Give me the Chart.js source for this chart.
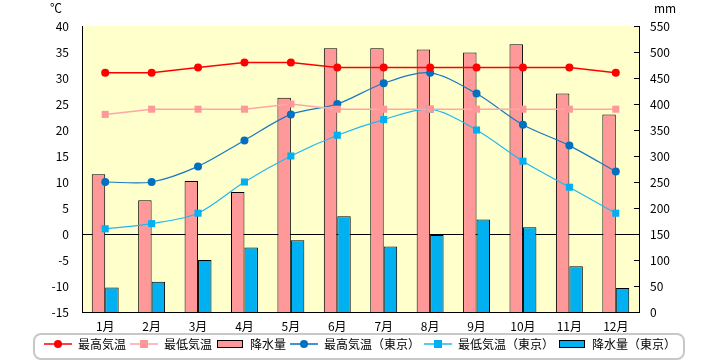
<!DOCTYPE html>
<html>
<head>
<meta charset="utf-8">
<script src="https://cdn.jsdelivr.net/npm/chart.js@4.4.1/dist/chart.umd.min.js"></script>
<style>
  html, body { margin: 0; padding: 0; background: #fff; }
  #wrap { width: 720px; height: 360px; }
</style>
</head>
<body>
<div id="wrap"><canvas id="chart" width="720" height="360"></canvas></div>
<script>
var months = ['1月','2月','3月','4月','5月','6月','7月','8月','9月','10月','11月','12月'];
var maxTemp = [31, 31, 32, 33, 33, 32, 32, 32, 32, 32, 32, 31];
var minTemp = [23, 24, 24, 24, 25, 24, 24, 24, 24, 24, 24, 24];
var rain = [265, 215, 252, 231, 412, 507, 507, 505, 499, 515, 420, 380];
var maxTokyo = [10, 10, 13, 18, 23, 25, 29, 31, 27, 21, 17, 12];
var minTokyo = [1, 2, 4, 10, 15, 19, 22, 24, 20, 14, 9, 4];
var rainTokyo = [47, 58, 100, 124, 138, 184, 126, 148, 178, 163, 88, 46];

var FONT = '"Noto Sans CJK JP", "Noto Sans", sans-serif';

function lineIcon(color, marker, mColor) {
    var c = document.createElement('canvas');
    c.width = 28; c.height = 12;
    var g = c.getContext('2d');
    g.strokeStyle = color; g.lineWidth = 1.5;
    g.beginPath(); g.moveTo(0, 6); g.lineTo(28, 6); g.stroke();
    g.fillStyle = mColor;
    if (marker == 'circle') {
        g.beginPath(); g.arc(14, 6, 4, 0, Math.PI * 2); g.fill();
    } else {
        g.fillRect(10, 2, 8, 8);
    }
    return c;
}
function barIcon(color) {
    var c = document.createElement('canvas');
    c.width = 28; c.height = 12;
    var g = c.getContext('2d');
    g.fillStyle = color; g.fillRect(1.5, 2.5, 25, 7);
    g.strokeStyle = '#000'; g.lineWidth = 1; g.strokeRect(1.5, 2.5, 25, 7);
    return c;
}

var icons = [
    lineIcon('#ff0000', 'circle', '#ff0000'),
    lineIcon('#ffa6a6', 'rect', '#ff9999'),
    barIcon('#ff9999'),
    lineIcon('#0070c0', 'circle', '#0070c0'),
    lineIcon('#22b8ee', 'rect', '#00b0f0'),
    barIcon('#00b0f0')
];

var extras = {
    id: 'extras',
    beforeDraw: function(chart) {
        var a = chart.chartArea, ctx = chart.ctx;
        ctx.save();
        ctx.fillStyle = '#ffffcc';
        ctx.fillRect(a.left, a.top, a.right - a.left, a.bottom - a.top);
        ctx.restore();
    },
    afterDraw: function(chart) {
        var ctx = chart.ctx, a = chart.chartArea;
        ctx.save();
        ctx.fillStyle = '#000';
        ctx.font = '12px ' + FONT;
        ctx.textBaseline = 'middle';
        ctx.textAlign = 'center';
        ctx.fillText('℃', 56, 8);
        ctx.fillText('mm', 665, 8);
        // small inward ticks on the right axis
        var y2 = chart.scales.y2;
        ctx.strokeStyle = '#000'; ctx.lineWidth = 1;
        y2.ticks.forEach(function(t) {
            var y = Math.round(y2.getPixelForValue(t.value)) + 0.5;
            ctx.beginPath(); ctx.moveTo(a.right - 5, y); ctx.lineTo(a.right, y); ctx.stroke();
        });
        // legend frame
        var boxes = chart.legend.legendHitBoxes;
        if (boxes && boxes.length) {
            var l = boxes[0].left - 10;
            var r = boxes[boxes.length - 1].left + boxes[boxes.length - 1].width + 8;
            var t = chart.legend.top, h = 25, rad = 7;
            ctx.strokeStyle = '#c8c8c8'; ctx.lineWidth = 2;
            ctx.beginPath();
            ctx.roundRect(l, t, r - l, h, rad);
            ctx.stroke();
        }
        ctx.restore();
    }
};

var ctx = document.getElementById('chart').getContext('2d');
var myChart = new Chart(ctx, {
    type: 'bar',
    data: {
        labels: months,
        datasets: [{
            type: 'line', label: '最高気温', data: maxTemp, yAxisID: 'y',
            borderColor: '#ff0000', backgroundColor: '#ff0000', borderWidth: 1.5,
            pointStyle: 'circle', pointRadius: 4, pointBorderWidth: 0, tension: 0, order: 1
        }, {
            type: 'line', label: '最低気温', data: minTemp, yAxisID: 'y',
            borderColor: '#ffa6a6', backgroundColor: '#ff9999', borderWidth: 1.5,
            pointStyle: 'rect', pointRadius: 5, pointBorderWidth: 0, tension: 0, order: 1
        }, {
            label: '降水量', data: rain, yAxisID: 'y2',
            backgroundColor: '#ff9999', borderColor: '#000', borderWidth: 1,
            borderSkipped: 'bottom', order: 2
        }, {
            type: 'line', label: '最高気温（東京）', data: maxTokyo, yAxisID: 'y',
            borderColor: '#1a78c2', backgroundColor: '#0070c0', borderWidth: 1.2,
            pointStyle: 'circle', pointRadius: 4, pointBorderWidth: 0, tension: 0.3, order: 1
        }, {
            type: 'line', label: '最低気温（東京）', data: minTokyo, yAxisID: 'y',
            borderColor: '#22b8ee', backgroundColor: '#00b0f0', borderWidth: 1.2,
            pointStyle: 'rect', pointRadius: 5, pointBorderWidth: 0, tension: 0.3, order: 1
        }, {
            label: '降水量（東京）', data: rainTokyo, yAxisID: 'y2',
            backgroundColor: '#00b0f0', borderColor: '#000', borderWidth: 1,
            borderSkipped: 'bottom', order: 2
        }]
    },
    options: {
        responsive: false,
        animation: false,
        layout: { padding: { top: 26, left: 0, right: 0, bottom: 0 } },
        datasets: { bar: { barPercentage: 1, categoryPercentage: 0.58 } },
        scales: {
            x: {
                grid: { display: false, drawTicks: false },
                border: { color: '#000' },
                ticks: { color: '#000', font: { family: FONT, size: 12 }, padding: 7, maxRotation: 0 },
                afterFit: function(s) { s.height = 22; }
            },
            y: {
                position: 'left', min: -15, max: 40,
                grid: {
                    drawTicks: false,
                    color: function(c) { return c.tick && c.tick.value === 0 ? '#000' : 'rgba(0,0,0,0)'; }
                },
                border: { color: '#000' },
                ticks: { stepSize: 5, color: '#000', font: { family: FONT, size: 12 }, padding: 13 },
                afterFit: function(s) { s.width = 82; }
            },
            y2: {
                position: 'right', min: 0, max: 550,
                grid: { display: false, drawTicks: false },
                border: { color: '#000' },
                ticks: { stepSize: 50, color: '#000', font: { family: FONT, size: 12 }, padding: 11 },
                afterFit: function(s) { s.width = 81; }
            }
        },
        plugins: {
            tooltip: { enabled: false },
            legend: {
                position: 'bottom',
                labels: {
                    usePointStyle: true,
                    pointStyleWidth: 28,
                    padding: 4,
                    color: '#000',
                    font: { family: FONT, size: 12 },
                    generateLabels: function(chart) {
                        return chart.data.datasets.map(function(ds, i) {
                            return { text: ds.label, pointStyle: icons[i], datasetIndex: i,
                                     fillStyle: 'transparent', strokeStyle: 'transparent', lineWidth: 0 };
                        });
                    }
                }
            }
        }
    },
    plugins: [extras]
});
</script>
</body>
</html>
